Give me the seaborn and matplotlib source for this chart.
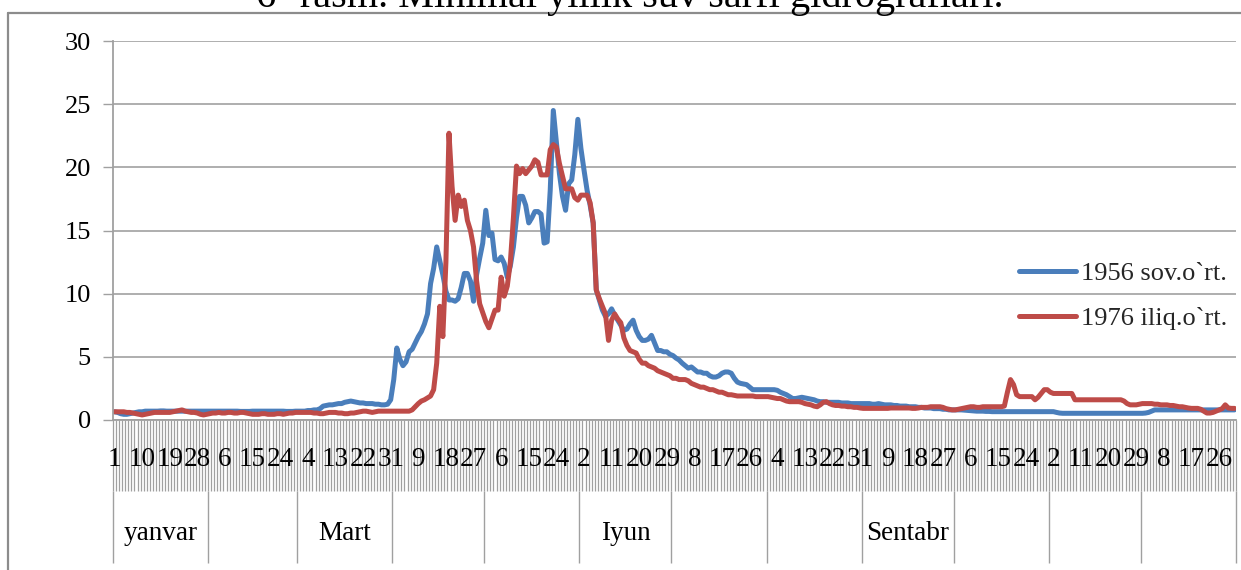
import numpy as np
import pandas as pd
import matplotlib
matplotlib.use("Agg")
import matplotlib.pyplot as plt
import matplotlib.transforms as mtransforms
from matplotlib.lines import Line2D
import seaborn as sns

# ---- data -------------------------------------------------------------
series_names = ["1956 sov.o`rt.", "1976 iliq.o`rt."]
series_colors = ["#4A7EBB", "#BE4B48"]

month_lengths = [31, 29, 31, 30, 31, 30, 31, 31, 30, 31, 30, 31]
month_labels = ["yanvar", "", "Mart", "", "", "Iyun", "", "", "Sentabr", "", "", ""]

day_labels = ["1", "10", "19", "28", "6", "15", "24", "4", "13", "22", "31",
              "9", "18", "27", "6", "15", "24", "2", "11", "20", "29", "8",
              "17", "26", "4", "13", "22", "31", "9", "18", "27", "6", "15",
              "24", "2", "11", "20", "29", "8", "17", "26"]
day_label_step = 9

# 1956 (dry year) daily discharge, month by month
q1956 = (
    [0.65, 0.6, 0.5, 0.45, 0.45, 0.5, 0.55, 0.6, 0.65, 0.65, 0.7, 0.7, 0.7, 0.7, 0.7, 0.72,
     0.72, 0.7, 0.7, 0.7, 0.7, 0.7, 0.7, 0.7, 0.7, 0.7, 0.7, 0.7, 0.7, 0.7, 0.7]
    + [0.7, 0.7, 0.7, 0.7, 0.7, 0.7, 0.7, 0.7, 0.7, 0.7, 0.68, 0.68, 0.68, 0.68, 0.7,
       0.7, 0.7, 0.7, 0.7, 0.7, 0.7, 0.7, 0.7, 0.7, 0.7, 0.68, 0.68, 0.68, 0.7]
    + [0.7, 0.7, 0.7, 0.75, 0.75, 0.8, 0.8, 0.9, 1.1, 1.15, 1.2, 1.2, 1.25, 1.3, 1.3, 1.4,
       1.45, 1.5, 1.45, 1.4, 1.35, 1.35, 1.3, 1.3, 1.3, 1.25, 1.25, 1.2, 1.2, 1.25, 1.6]
    + [3.2, 5.7, 4.8, 4.3, 4.6, 5.4, 5.6, 6.1, 6.6, 7.0, 7.6, 8.4, 10.8, 12.0, 13.7, 12.6,
       11.5, 10.2, 9.5, 9.5, 9.4, 9.6, 10.5, 11.6, 11.6, 11.0, 9.4, 11.5, 12.8, 14.0]
    + [16.6, 14.6, 14.8, 12.7, 12.6, 12.9, 12.4, 11.3, 12.2, 13.7, 16.0, 17.7, 17.7, 17.0,
       15.6, 16.0, 16.5, 16.5, 16.3, 14.0, 14.1, 18.2, 24.5, 22.0, 19.5, 17.7, 16.6, 18.7,
       19.0, 21.0, 23.8]
    + [21.5, 19.8, 18.2, 17.0, 15.6, 10.3, 9.5, 8.7, 8.2, 8.4, 8.8, 8.3, 7.9, 7.5, 7.1,
       7.2, 7.6, 7.9, 7.1, 6.6, 6.3, 6.3, 6.4, 6.7, 6.1, 5.5, 5.5, 5.4, 5.4, 5.2]
    + [5.1, 4.9, 4.75, 4.5, 4.3, 4.1, 4.2, 4.0, 3.8, 3.8, 3.7, 3.7, 3.5, 3.4, 3.4, 3.5,
       3.7, 3.8, 3.8, 3.7, 3.3, 3.0, 2.9, 2.85, 2.8, 2.6, 2.4, 2.4, 2.4, 2.4, 2.4]
    + [2.4, 2.4, 2.4, 2.35, 2.2, 2.1, 2.0, 1.85, 1.7, 1.7, 1.75, 1.8, 1.75, 1.7, 1.65, 1.6,
       1.5, 1.45, 1.45, 1.4, 1.4, 1.4, 1.4, 1.4, 1.35, 1.35, 1.35, 1.3, 1.3, 1.3, 1.3]
    + [1.3, 1.3, 1.3, 1.25, 1.25, 1.3, 1.25, 1.2, 1.2, 1.2, 1.15, 1.15, 1.1, 1.1, 1.1,
       1.05, 1.05, 1.05, 1.0, 1.0, 0.95, 0.95, 0.95, 0.9, 0.9, 0.9, 0.85, 0.85, 0.8, 0.8]
    + [0.8, 0.8, 0.8, 0.78, 0.76, 0.74, 0.72, 0.7, 0.7, 0.7, 0.68, 0.68, 0.66, 0.66, 0.66,
       0.66, 0.66, 0.66, 0.66, 0.66, 0.66, 0.66, 0.66, 0.66, 0.66, 0.66, 0.66, 0.66, 0.66,
       0.66, 0.66]
    + [0.66, 0.66, 0.6, 0.55, 0.53, 0.53, 0.53, 0.53, 0.53, 0.53, 0.53, 0.53, 0.53, 0.53,
       0.53, 0.53, 0.53, 0.53, 0.53, 0.53, 0.53, 0.53, 0.53, 0.53, 0.53, 0.53, 0.53, 0.53,
       0.53, 0.53]
    + [0.53, 0.55, 0.6, 0.7, 0.8, 0.8, 0.8, 0.8, 0.8, 0.8, 0.8, 0.8, 0.8, 0.8, 0.8, 0.8,
       0.8, 0.8, 0.8, 0.8, 0.8, 0.8, 0.8, 0.8, 0.8, 0.8, 0.8, 0.8, 0.8, 0.8, 0.8]
)

# 1976 (warm year) daily discharge, month by month
q1976 = (
    [0.65, 0.65, 0.65, 0.65, 0.6, 0.6, 0.55, 0.5, 0.45, 0.4, 0.45, 0.5, 0.55, 0.6, 0.6, 0.6,
     0.6, 0.6, 0.6, 0.65, 0.7, 0.75, 0.8, 0.7, 0.65, 0.6, 0.6, 0.55, 0.45, 0.4, 0.45]
    + [0.5, 0.55, 0.55, 0.6, 0.55, 0.55, 0.6, 0.6, 0.55, 0.55, 0.6, 0.6, 0.55, 0.5, 0.45,
       0.45, 0.45, 0.5, 0.5, 0.45, 0.45, 0.45, 0.5, 0.5, 0.45, 0.5, 0.55, 0.55, 0.6]
    + [0.6, 0.6, 0.6, 0.6, 0.6, 0.55, 0.55, 0.5, 0.5, 0.55, 0.6, 0.6, 0.6, 0.55, 0.55, 0.5,
       0.5, 0.55, 0.55, 0.6, 0.65, 0.7, 0.7, 0.65, 0.6, 0.65, 0.7, 0.7, 0.7, 0.7, 0.7]
    + [0.7, 0.7, 0.7, 0.7, 0.7, 0.7, 0.8, 1.05, 1.3, 1.5, 1.6, 1.75, 1.9, 2.4, 4.5, 9.0,
       6.6, 12.5, 22.7, 18.5, 15.8, 17.8, 16.9, 17.4, 15.8, 15.0, 13.7, 11.0, 9.2, 8.5]
    + [7.8, 7.3, 8.0, 8.7, 8.7, 11.3, 9.8, 10.6, 12.5, 16.0, 20.1, 19.5, 19.9, 19.5, 19.8,
       20.1, 20.6, 20.4, 19.4, 19.4, 19.4, 21.4, 21.8, 21.6, 20.3, 19.3, 18.3, 18.3, 18.3,
       17.6, 17.4]
    + [17.8, 17.8, 17.8, 17.2, 15.6, 10.3, 9.6, 9.0, 8.4, 6.3, 7.9, 8.4, 8.0, 7.7, 6.5,
       5.9, 5.5, 5.4, 5.3, 4.8, 4.5, 4.5, 4.3, 4.2, 4.1, 3.9, 3.8, 3.7, 3.6, 3.5]
    + [3.3, 3.3, 3.2, 3.2, 3.2, 3.1, 2.9, 2.8, 2.7, 2.6, 2.6, 2.5, 2.4, 2.4, 2.3, 2.2, 2.2,
       2.1, 2.0, 2.0, 1.95, 1.9, 1.9, 1.9, 1.9, 1.9, 1.9, 1.85, 1.85, 1.85, 1.85]
    + [1.85, 1.8, 1.75, 1.7, 1.7, 1.6, 1.5, 1.45, 1.45, 1.45, 1.45, 1.4, 1.3, 1.25, 1.2,
       1.1, 1.05, 1.2, 1.4, 1.45, 1.3, 1.2, 1.15, 1.15, 1.1, 1.1, 1.05, 1.05, 1.0, 1.0, 0.95]
    + [0.92, 0.92, 0.92, 0.92, 0.92, 0.92, 0.92, 0.92, 0.92, 0.95, 0.95, 0.95, 0.95, 0.95,
       0.95, 0.95, 0.92, 0.92, 0.95, 1.0, 1.0, 1.0, 1.05, 1.05, 1.05, 1.05, 1.0, 0.9, 0.85,
       0.8]
    + [0.8, 0.85, 0.9, 0.95, 1.0, 1.05, 1.05, 1.0, 1.0, 1.05, 1.05, 1.05, 1.05, 1.05, 1.05,
       1.05, 1.1, 2.2, 3.2, 2.8, 2.0, 1.85, 1.85, 1.85, 1.85, 1.85, 1.6, 1.8, 2.1, 2.4, 2.4]
    + [2.2, 2.1, 2.1, 2.1, 2.1, 2.1, 2.1, 2.1, 1.6, 1.6, 1.6, 1.6, 1.6, 1.6, 1.6, 1.6, 1.6,
       1.6, 1.6, 1.6, 1.6, 1.6, 1.6, 1.6, 1.5, 1.3, 1.2, 1.2, 1.2, 1.25]
    + [1.3, 1.3, 1.3, 1.3, 1.25, 1.25, 1.2, 1.2, 1.2, 1.15, 1.15, 1.1, 1.05, 1.05, 1.0,
       0.95, 0.92, 0.92, 0.92, 0.85, 0.7, 0.55, 0.55, 0.6, 0.7, 0.8, 0.9, 1.2, 0.95, 0.92,
       0.92]
)

n_days = sum(month_lengths)
assert len(q1956) == n_days and len(q1976) == n_days

df = pd.DataFrame({
    "kun": np.concatenate([np.arange(n_days), np.arange(n_days)]),
    "Q": q1956 + q1976,
    "yil": [series_names[0]] * n_days + [series_names[1]] * n_days,
})

# ---- figure -----------------------------------------------------------
sns.set_style("white")
plt.rcParams["font.family"] = ["Liberation Serif", "DejaVu Serif"]

W, H = 1241, 570
fig = plt.figure(figsize=(W / 100, H / 100), dpi=100)
ax = fig.add_axes([113 / W, 1 - 420 / H, (1236 - 113) / W, (420 - 41) / H])

line_w = 3.6
sns.lineplot(data=df, x="kun", y="Q", hue="yil", palette=series_colors,
             linewidth=line_w, ax=ax)

grey = "#a0a0a0"
ax.set_xlim(-0.5, n_days - 0.5)
ax.set_ylim(0, 30)
ax.set_yticks(range(0, 31, 5))
ax.yaxis.grid(True, color="#a8a8a8", linewidth=1.3)
ax.xaxis.grid(False)
for s in ("top", "right"):
    ax.spines[s].set_visible(False)
for s in ("left", "bottom"):
    ax.spines[s].set_color(grey)
    ax.spines[s].set_linewidth(1.3)
ax.set_xlabel("")
ax.set_ylabel("")
ax.tick_params(axis="y", which="major", left=True, length=7, width=1.0,
               color=grey, labelsize=19, pad=9, labelcolor="black")

# one tick per day, running through the day-label band
ax.set_xticks([])
ax.set_xticks(np.arange(-0.5, n_days, 1), minor=True)
ax.tick_params(axis="x", which="minor", bottom=True, length=51, width=0.9,
               color="#a0a0a0", direction="out")

trans = mtransforms.blended_transform_factory(ax.transData, ax.transAxes)
ax_h = 420 - 41
band1 = -(491 - 420) / ax_h
band2 = -(563 - 420) / ax_h

for i, lab in enumerate(day_labels):
    ax.text(i * day_label_step, -(460 - 420) / ax_h, lab, transform=trans,
            ha="center", va="center", fontsize=19.5, color="black", clip_on=False)

bounds = np.concatenate([[0], np.cumsum(month_lengths)]) - 0.5
ax.vlines(bounds, band2, band1, transform=trans, colors="#a0a0a0",
          linewidth=1.0, clip_on=False)
for k, lab in enumerate(month_labels):
    if lab:
        ax.text((bounds[k] + bounds[k + 1]) / 2, -(533 - 420) / ax_h, lab,
                transform=trans, ha="center", va="center", fontsize=19.5,
                color="black", clip_on=False)

leg = ax.legend(loc="center left", bbox_to_anchor=(1006 / W, 1 - 296 / H),
                bbox_transform=fig.transFigure, frameon=False, fontsize=19,
                handlelength=2.15, handletextpad=0.2, labelspacing=0.8,
                borderpad=0, title=None)
for line in leg.get_lines():
    line.set_linewidth(line_w)

# chart border and caption
fig.add_artist(Line2D([8 / W, 8 / W], [0, 1 - 13 / H], color="#8c8c8c", lw=1.6))
fig.add_artist(Line2D([8 / W, 1], [1 - 13 / H, 1 - 13 / H], color="#8c8c8c", lw=1.6))
fig.text(630 / W, 1 - 7 / H, "6- rasm. Minimal yillik suv sarfi gidrograflari.",
         ha="center", va="baseline", fontsize=29, color="black")

fig.savefig("out.png", dpi=100)
